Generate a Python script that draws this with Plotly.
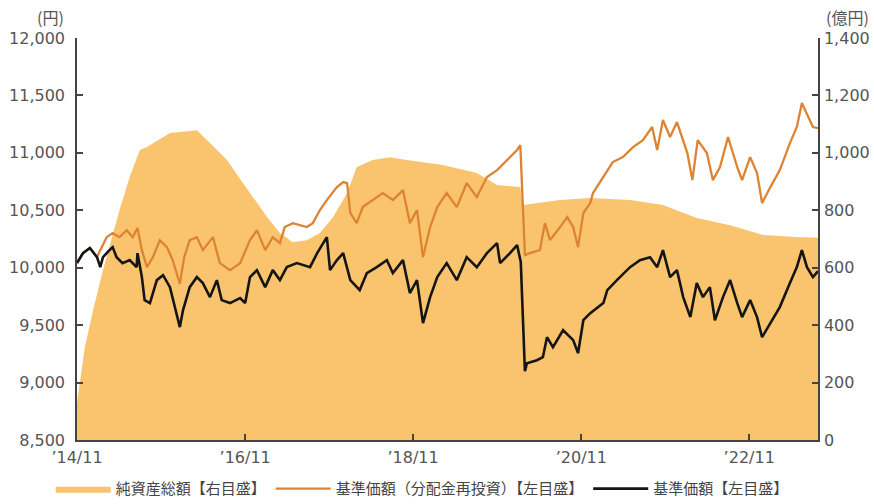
import plotly.graph_objects as go

# ---- data ----
nav_dates = ["2014-11-01", "2014-12-05", "2015-01-10", "2015-02-22", "2015-05-05", "2015-06-18",
             "2015-08-01", "2015-09-01", "2015-12-10", "2016-04-05", "2016-06-01", "2016-08-14",
             "2016-10-22", "2016-12-05", "2017-02-05", "2017-04-01", "2017-05-27", "2017-07-27",
             "2017-09-22", "2017-11-18", "2018-01-18", "2018-03-01", "2018-05-10", "2018-07-22",
             "2018-10-05", "2019-03-10", "2019-08-05", "2019-11-01", "2020-02-10", "2020-02-20",
             "2020-08-01", "2020-12-10", "2021-06-01", "2021-10-22", "2022-03-18", "2022-08-10",
             "2023-01-01", "2023-05-27", "2023-08-27"]
nav_values = [130, 323, 452, 592, 801, 916,
              1010, 1020, 1069, 1079, 1034, 975,
              895, 846, 776, 721, 689, 696,
              721, 776, 860, 951, 975, 985,
              975, 958, 930, 888, 881, 818,
              836, 843, 836, 818, 773, 748,
              714, 707, 704]

base_dates = ["2014-11-01", "2014-11-27", "2014-12-27", "2015-01-27", "2015-02-10", "2015-02-22",
              "2015-03-22", "2015-04-05", "2015-04-22", "2015-05-18", "2015-06-18", "2015-07-18",
              "2015-07-22", "2015-08-10", "2015-08-22", "2015-09-14", "2015-10-14", "2015-11-10",
              "2015-12-10", "2016-01-10", "2016-01-22", "2016-02-05", "2016-03-05", "2016-04-05",
              "2016-05-01", "2016-06-01", "2016-07-01", "2016-07-22", "2016-08-27", "2016-10-10",
              "2016-11-01", "2016-11-22", "2016-12-22", "2017-01-27", "2017-03-01", "2017-04-01",
              "2017-05-01", "2017-06-14", "2017-08-10", "2017-09-10", "2017-10-22", "2017-11-05",
              "2017-12-05", "2018-01-01", "2018-02-01", "2018-03-14", "2018-04-14", "2018-05-27",
              "2018-07-10", "2018-08-05", "2018-09-18", "2018-10-18", "2018-11-18", "2018-12-14",
              "2019-01-14", "2019-02-14", "2019-03-27", "2019-05-10", "2019-06-22", "2019-08-05",
              "2019-09-18", "2019-11-01", "2019-11-14", "2019-12-27", "2020-01-27", "2020-02-12",
              "2020-03-01", "2020-03-10", "2020-04-22", "2020-05-18", "2020-06-05", "2020-07-01",
              "2020-08-14", "2020-09-27", "2020-10-18", "2020-11-10", "2020-12-10", "2021-02-05",
              "2021-02-22", "2021-04-05", "2021-06-01", "2021-07-14", "2021-08-27", "2021-09-27",
              "2021-10-22", "2021-11-22", "2021-12-22", "2022-01-18", "2022-02-18", "2022-03-18",
              "2022-04-14", "2022-05-14", "2022-06-05", "2022-07-10", "2022-08-10", "2022-09-10",
              "2022-10-01", "2022-11-05", "2022-12-05", "2022-12-27", "2023-02-01", "2023-03-14",
              "2023-04-27", "2023-05-27", "2023-06-18", "2023-07-10", "2023-08-05", "2023-08-27"]
base_values = [10040, 10127, 10171, 10092, 10005, 10092,
               10153, 10179, 10092, 10040, 10066, 10005,
               10127, 9918, 9718, 9692, 9892, 9935,
               9831, 9570, 9483, 9631, 9831, 9918,
               9866, 9744, 9892, 9718, 9692, 9735,
               9692, 9918, 9979, 9831, 9979, 9892,
               10005, 10040, 10005, 10127, 10266, 9979,
               10066, 10127, 9892, 9805, 9953, 10005,
               10066, 9953, 10066, 9779, 9892, 9517,
               9744, 9918, 10040, 9892, 10092, 10005,
               10127, 10214, 10040, 10127, 10197, 10050,
               9100, 9169, 9195, 9221, 9395, 9308,
               9456, 9369, 9256, 9543, 9604, 9692,
               9805, 9892, 10005, 10066, 10092, 10005,
               10153, 9918, 9979, 9744, 9570, 9866,
               9744, 9831, 9543, 9744, 9892, 9692,
               9570, 9718, 9570, 9395, 9517, 9657,
               9866, 10005, 10153, 10005, 9918, 9970]

reinv_dates = ["2014-11-01", "2014-11-27", "2014-12-27", "2015-01-27", "2015-02-10", "2015-03-10",
               "2015-04-05", "2015-05-05", "2015-06-05", "2015-07-01", "2015-07-22", "2015-08-10",
               "2015-09-01", "2015-09-27", "2015-10-27", "2015-11-27", "2015-12-22", "2016-01-22",
               "2016-02-10", "2016-03-05", "2016-04-05", "2016-05-01", "2016-06-14", "2016-07-14",
               "2016-08-27", "2016-10-10", "2016-11-22", "2016-12-22", "2017-01-27", "2017-03-01",
               "2017-04-01", "2017-04-22", "2017-05-27", "2017-07-27", "2017-08-22", "2017-09-22",
               "2017-10-22", "2017-12-05", "2018-01-01", "2018-01-18", "2018-02-01", "2018-03-01",
               "2018-03-27", "2018-05-10", "2018-06-22", "2018-08-05", "2018-09-18", "2018-10-18",
               "2018-11-18", "2018-12-14", "2019-01-14", "2019-02-14", "2019-03-27", "2019-05-10",
               "2019-06-22", "2019-08-05", "2019-09-18", "2019-11-01", "2019-12-14", "2020-01-27",
               "2020-02-10", "2020-03-01", "2020-03-22", "2020-05-05", "2020-05-27", "2020-06-18",
               "2020-08-01", "2020-09-01", "2020-09-27", "2020-10-18", "2020-11-10", "2020-12-10",
               "2020-12-22", "2021-02-05", "2021-03-18", "2021-05-01", "2021-06-14", "2021-07-27",
               "2021-09-05", "2021-09-27", "2021-10-22", "2021-11-22", "2021-12-22", "2022-02-05",
               "2022-02-27", "2022-03-22", "2022-05-01", "2022-05-27", "2022-06-27", "2022-08-01",
               "2022-09-10", "2022-10-01", "2022-11-05", "2022-12-05", "2022-12-27", "2023-02-01",
               "2023-03-14", "2023-04-27", "2023-05-27", "2023-06-18", "2023-07-14", "2023-08-05",
               "2023-08-27"]
reinv_values = [10040, 10127, 10171, 10092, 10153, 10266,
                10301, 10266, 10327, 10266, 10345, 10153,
                10005, 10092, 10240, 10179, 10066, 9860,
                10092, 10240, 10266, 10153, 10266, 10040,
                9979, 10040, 10240, 10327, 10153, 10266,
                10214, 10354, 10388, 10354, 10388, 10502,
                10589, 10702, 10746, 10737, 10476, 10388,
                10528, 10589, 10650, 10589, 10676, 10388,
                10502, 10092, 10354, 10528, 10650, 10528,
                10737, 10615, 10789, 10850, 10937, 11024,
                11068, 10110, 10127, 10153, 10388, 10240,
                10354, 10441, 10354, 10179, 10476, 10563,
                10650, 10789, 10920, 10963, 11050, 11111,
                11225, 11024, 11286, 11138, 11268, 10998,
                10763, 11111, 10998, 10763, 10876, 11138,
                10876, 10763, 10963, 10824, 10563, 10702,
                10850, 11085, 11225, 11434, 11312, 11225,
                11216]

tick_dates = ["2014-11-01", "2016-11-01", "2018-11-01", "2020-11-01", "2022-11-01"]
tick_text = ["’14/11", "’16/11", "’18/11", "’20/11", "’22/11"]
left_ticks = [8500, 9000, 9500, 10000, 10500, 11000, 11500, 12000]
right_ticks = [0, 200, 400, 600, 800, 1000, 1200, 1400]

JP = "Noto Sans CJK JP"
NUM = "DejaVu Sans"
GRAY = "#555555"
AXIS = "#444444"

fig = go.Figure()
fig.add_trace(go.Scatter(
    x=nav_dates, y=nav_values, name="純資産総額【右目盛】", yaxis="y",
    mode="lines", line=dict(width=0, color="#FAC46E"), fill="tozeroy",
    fillcolor="#FAC46E"))
fig.add_trace(go.Scatter(
    x=reinv_dates, y=reinv_values, name="基準価額（分配金再投資）【左目盛】", yaxis="y2",
    mode="lines", line=dict(width=2.3, color="#DC8432")))
fig.add_trace(go.Scatter(
    x=base_dates, y=base_values, name="基準価額【左目盛】", yaxis="y2",
    mode="lines", line=dict(width=2.6, color="#151515")))

axis_common = dict(showgrid=False, zeroline=False, showline=True, linecolor=AXIS, linewidth=1.5,
                   ticks="inside", ticklen=6, tickcolor=AXIS, tickwidth=1.5, automargin=False)

fig.update_layout(
    width=874, height=504,
    margin=dict(l=77, r=56, t=38, b=64, autoexpand=False),
    paper_bgcolor="white", plot_bgcolor="white",
    font=dict(family=JP, color=GRAY, size=15),
    showlegend=True,
    legend=dict(orientation="h", xref="container", x=0.058, xanchor="left",
                yref="container", y=0.03, yanchor="middle",
                font=dict(size=15, color="#444444", family=JP), itemwidth=55,
                traceorder="normal"),
    xaxis=dict(type="date", range=["2014-11-01", "2023-08-27"],
               tickvals=tick_dates, ticktext=tick_text, ticklabelstandoff=2,
               tickfont=dict(size=16, color=GRAY, family=NUM), **axis_common),
    yaxis=dict(side="right", range=[0, 1400], tickvals=right_ticks, tickformat=",d",
               ticklabelstandoff=1,
               tickfont=dict(size=16, color=GRAY, family=NUM), **axis_common),
    yaxis2=dict(side="left", overlaying="y", range=[8500, 12000], tickvals=left_ticks,
                tickformat=",d", ticklabelstandoff=7,
                tickfont=dict(size=16, color=GRAY, family=NUM), **axis_common),
    annotations=[
        dict(text="(円)", xref="paper", yref="paper", x=-0.036, y=1.0, yshift=21,
             xanchor="center", yanchor="middle", showarrow=False,
             font=dict(size=16, color=GRAY, family=JP)),
        dict(text="(億円)", xref="paper", yref="paper", x=1.04, y=1.0, yshift=21,
             xanchor="center", yanchor="middle", showarrow=False,
             font=dict(size=16, color=GRAY, family=JP)),
    ],
)

fig.write_html("out.html", config={"displayModeBar": False},
               post_script="document.body.style.margin='0';")
